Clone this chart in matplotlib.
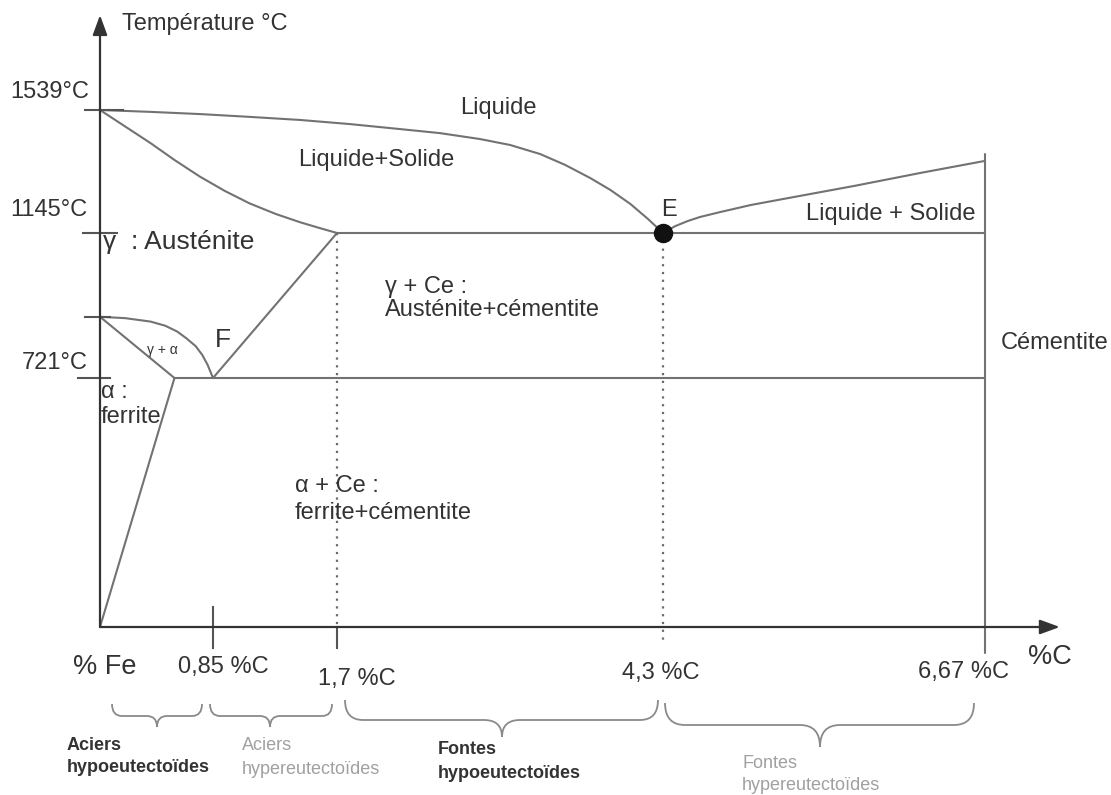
import numpy as np
import matplotlib
matplotlib.use("Agg")
import matplotlib.pyplot as plt
from matplotlib.path import Path
from matplotlib.patches import PathPatch

plt.rcParams['font.family'] = ['Liberation Sans', 'DejaVu Sans']

W, H = 1111, 795

# ---------------- data (composition in %C, temperature in °C) ----------------
comp_ticks = [0.0, 0.85, 1.7, 4.3, 6.67]
comp_labels = ['% Fe', '0,85 %C', '1,7 %C', '4,3 %C', '6,67 %C']
temp_ticks = [1539, 1145, 721]
temp_labels = ['1539°C', '1145°C', '721°C']

# liquidus, hypo-eutectic side (Fe melting point -> eutectic point E)
liq_left_c = [0, 0.38, 0.75, 1.10, 1.45, 1.80, 2.20, 2.52, 2.84, 3.08, 3.32,
              3.52, 3.72, 3.88, 4.04, 4.18, 4.3]
liq_left_T = [1539, 1533, 1526, 1517, 1507, 1494, 1478, 1465, 1446, 1427, 1398,
              1363, 1321, 1283, 1238, 1190, 1145]
# solidus of austenite
sol_c = [0, 0.19, 0.38, 0.56, 0.75, 0.93, 1.10, 1.28, 1.45, 1.58, 1.7]
sol_T = [1539, 1486, 1433, 1379, 1326, 1280, 1240, 1206, 1179, 1161, 1145]
# liquidus, hyper-eutectic side (E -> cementite)
liq_right_c = [4.3, 4.34, 4.39, 4.48, 4.57, 4.72, 4.95, 5.31, 5.71, 6.19, 6.67]
liq_right_T = [1145, 1155, 1167, 1183, 1196, 1212, 1235, 1264, 1296, 1337, 1376]
# A3 line (gamma / gamma+alpha)
a3_c = [0, 0.19, 0.38, 0.49, 0.58, 0.65, 0.72, 0.77, 0.81, 0.85]
a3_T = [900, 896, 886, 874, 857, 837, 814, 788, 759, 721]
# alpha boundary and ferrite solvus
alpha_c = [0, 0.56, 0]
alpha_T = [900, 721, 0]
# Acm line
acm_c = [0.85, 1.7]
acm_T = [721, 1145]
# horizontals
eutectic_c = [1.7, 6.67]
eutectic_T = 1145
eutectoid_c = [0.56, 6.67]
eutectoid_T = 721
cementite_c = 6.67
cementite_T = [1398, -75]
axis_T_top = 1843
axis_c_right = 7.22
E_point = (4.3, 1145)

# ---------------- schematic (non-linear) scales ----------------
C_ANCH = [-10, 0, 0.85, 1.7, 4.3, 6.67, 16]
PX_X = [100 - 10 * 133, 100, 213, 337, 663, 985, 985 + 9.33 * 136]
T_ANCH = [-3000, 0, 721, 1145, 1539, 4000]
PX_Y = [627 + 3000 * 0.3453, 627, 378, 233, 110, 110 - 2461 * 0.3122]


def fx(c):
    return np.interp(np.asarray(c, float), C_ANCH, PX_X)


def fx_inv(p):
    return np.interp(np.asarray(p, float), PX_X, C_ANCH)


def fy(t):
    return -np.interp(np.asarray(t, float), T_ANCH, PX_Y)


def fy_inv(s):
    return np.interp(-np.asarray(s, float), PX_Y[::-1], T_ANCH[::-1])


fig = plt.figure(figsize=(W / 100, H / 100), dpi=100)
fig.patch.set_facecolor('white')
ax = fig.add_axes([0, 0, 1, 1])
ax.set_xscale('function', functions=(fx, fx_inv))
ax.set_yscale('function', functions=(fy, fy_inv))
ax.set_xlim(float(fx_inv(0)), float(fx_inv(W)))
ax.set_ylim(float(fy_inv(-H)), float(fy_inv(0)))
ax.axis('off')

LC = '#727272'
AC = '#555555'
LW = 1.5
kw = dict(color=LC, lw=LW, solid_joinstyle='round', solid_capstyle='round')

# phase lines
ax.plot(liq_left_c, liq_left_T, **kw)
ax.plot(sol_c, sol_T, **kw)
ax.plot(liq_right_c, liq_right_T, **kw)
ax.plot(a3_c, a3_T, **kw)
ax.plot(alpha_c, alpha_T, **kw)
ax.plot(acm_c, acm_T, **kw)
ax.plot(eutectic_c, [eutectic_T] * 2, **kw)
ax.plot(eutectoid_c, [eutectoid_T] * 2, **kw)
ax.plot([cementite_c] * 2, cementite_T, **kw)

# dotted verticals
dot = (0, (1, 2.5))
ax.plot([comp_ticks[2]] * 2, [eutectic_T, 0], color='#6a6a6a', lw=1.6, ls=dot)
ax.plot([comp_ticks[3]] * 2, [eutectic_T, -52], color='#6a6a6a', lw=1.6, ls=dot)

# composition tick marks
ax.plot([comp_ticks[1]] * 2, [58, -61], color=AC, lw=LW)
ax.plot([comp_ticks[2]] * 2, [0, -61], color=AC, lw=LW)

# temperature tick marks (left/right extent in %C around the axis)
for T, l, r in [(1539, -0.11, 0.17), (1145, -0.13, 0.13), (900, -0.11, 0.075), (721, -0.165, 0.075)]:
    ax.plot([l, r], [T, T], color=AC, lw=LW)

# axes with arrows
arrow = dict(arrowstyle='-|>,head_length=0.6,head_width=0.22', color='#333333',
             lw=1.6, mutation_scale=20, shrinkA=0, shrinkB=0)
ax.annotate('', xy=(0, axis_T_top), xytext=(0, 0), arrowprops=arrow)
ax.annotate('', xy=(axis_c_right, 0), xytext=(0, 0), arrowprops=arrow)

# eutectic point
ax.plot([E_point[0]], [E_point[1]], 'o', color='#111111', ms=13, zorder=5)


# ---------------- text (pixel layout) ----------------
TC = '#333333'
GC = '#a0a0a0'
FS = 17


def txt(x, y, s, size=FS, color=TC, weight='normal', ha='left'):
    fig.text(x / W, 1 - y / H, s, fontsize=size, color=color, weight=weight,
             ha=ha, va='center')


txt(122, 24, 'Température °C')
for (lx, ly), s in zip([(10, 92), (10, 210), (22, 363)], temp_labels):
    txt(lx, ly, s)
txt(460, 108, 'Liquide')
txt(298, 160, 'Liquide+Solide')
txt(661, 210, 'E')
txt(806, 214, 'Liquide + Solide')
txt(103, 242, 'γ  : Austénite', size=19)
txt(385, 287, 'γ + Ce :')
txt(385, 310, 'Austénite+cémentite')
txt(1001, 343, 'Cémentite')
txt(215, 340, 'F', size=19)
txt(147, 350, 'γ + α', size=10)
txt(101, 392, 'α :')
txt(101, 417, 'ferrite')
txt(295, 486, 'α + Ce :')
txt(295, 513, 'ferrite+cémentite')

label_pos = [(73, 667, 19.5), (178, 667, FS), (318, 679, FS), (622, 673, FS), (918, 672, FS)]
for (lx, ly, sz), s in zip(label_pos, comp_labels):
    txt(lx, ly, s, size=sz)
txt(1028, 657, '%C', size=19.5)

txt(67, 745, 'Aciers', size=13, weight='bold')
txt(67, 768, 'hypoeutectoïdes', size=13, weight='bold')
txt(242, 745, 'Aciers', size=13, color=GC)
txt(242, 770, 'hypereutectoïdes', size=13, color=GC)
txt(438, 750, 'Fontes', size=13, weight='bold')
txt(438, 773, 'hypoeutectoïdes', size=13, weight='bold')
txt(742, 763, 'Fontes', size=13, color=GC)
txt(742, 785, 'hypereutectoïdes', size=13, color=GC)


# ---------------- braces ----------------
def brace(x0, x1, xt, ytop, ymid, ytip, r):
    pts = [(x0, ytop), (x0, ymid), (x0 + r, ymid),
           (xt - r, ymid), (xt, ymid), (xt, ytip),
           (xt, ymid), (xt + r, ymid),
           (x1 - r, ymid), (x1, ymid), (x1, ytop)]
    codes = [Path.MOVETO, Path.CURVE3, Path.CURVE3,
             Path.LINETO, Path.CURVE3, Path.CURVE3,
             Path.CURVE3, Path.CURVE3,
             Path.LINETO, Path.CURVE3, Path.CURVE3]
    verts = [(x / W, 1 - y / H) for x, y in pts]
    fig.add_artist(PathPatch(Path(verts, codes), transform=fig.transFigure,
                             fill=False, edgecolor='#8a8a8a', lw=1.3))


brace(112, 202, 157, 704, 716, 727, 10)
brace(210, 332, 270, 704, 716, 727, 10)
brace(345, 658, 502, 700, 720, 737, 18)
brace(665, 974, 820, 703, 725, 747, 20)

fig.savefig('out.png', dpi=100, facecolor='white')
